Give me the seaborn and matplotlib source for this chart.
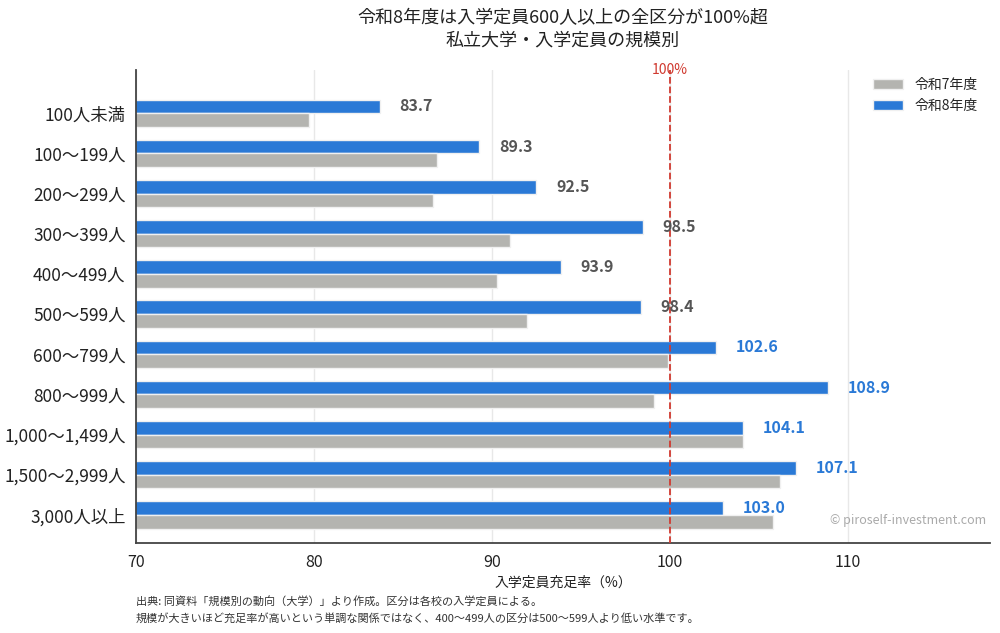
import pandas as pd
import numpy as np
import matplotlib.pyplot as plt
import seaborn as sns

# ----------------------------
# Data
# ----------------------------
categories = ['100人未満', '100～199人', '200～299人', '300～399人', '400～499人',
              '500～599人', '600～799人', '800～999人', '1,000～1,499人',
              '1,500～2,999人', '3,000人以上']
r7 = [79.7, 86.9, 86.7, 91.0, 90.3, 92.0, 99.9, 99.1, 104.1, 106.2, 105.8]
r8 = [83.7, 89.3, 92.5, 98.5, 93.9, 98.4, 102.6, 108.9, 104.1, 107.1, 103.0]
series = ['令和8年度', '令和7年度']

df = pd.DataFrame({
    'category': categories * 2,
    'year': [series[0]] * len(categories) + [series[1]] * len(categories),
    'value': r8 + r7,
})

blue = '#2a79d6'
gray = '#b4b4b0'

# ----------------------------
# Plot
# ----------------------------
sns.set_theme(style='white')
plt.rcParams['font.family'] = ['Noto Sans CJK JP', 'DejaVu Sans']

fig, ax = plt.subplots(figsize=(10, 6.33), dpi=100)
fig.subplots_adjust(left=0.136, right=0.99, top=0.889, bottom=0.142)

sns.barplot(data=df, y='category', x='value', hue='year', hue_order=series,
            order=categories, orient='h', palette=[blue, gray], saturation=1,
            width=0.68, edgecolor='#f0f0f0', linewidth=1, ax=ax, zorder=2)

ax.set_xlim(70, 118)
ax.set_ylim(10.7, -1.07)
ax.set_xticks([70, 80, 90, 100, 110])
ax.xaxis.grid(True, color='#e8e8e8', linewidth=1, zorder=0)
ax.set_axisbelow(True)
ax.set_xlabel('入学定員充足率（%）', fontsize=10, color='#222222')
ax.set_ylabel('')
ax.tick_params(axis='both', length=4, color='#444444', labelcolor='#222222')
ax.tick_params(axis='y', labelsize=12.5)
ax.tick_params(axis='x', labelsize=11.5)
for side in ['top', 'right']:
    ax.spines[side].set_visible(False)
for side in ['left', 'bottom']:
    ax.spines[side].set_color('#444444')
    ax.spines[side].set_linewidth(1.3)

# 100% line
ax.axvline(100, color='#d03a30', linestyle='--', linewidth=1.3, zorder=3)
ax.text(100, 1.0, '100%', transform=ax.get_xaxis_transform(), ha='center',
        va='center', color='#d03a30', fontsize=10)

# value labels on 令和8年度 bars
for i, v in enumerate(r8):
    c = blue if v > 100 else '#555555'
    ax.text(v + 1.1, i - 0.17, f'{v:.1f}', va='center', ha='left',
            fontsize=11.5, fontweight='bold', color=c)

# legend: gray first
handles, labels = ax.get_legend_handles_labels()
ax.legend(handles[::-1], labels[::-1], loc='upper right', frameon=False,
          fontsize=10, bbox_to_anchor=(1.0, 1.01), handlelength=2.2)

ax.text(0.995, 0.035, '© piroself-investment.com', transform=ax.transAxes,
        ha='right', va='bottom', color='#aaaaaa', fontsize=9)

fig.suptitle('令和8年度は入学定員600人以上の全区分が100%超\n私立大学・入学定員の規模別',
             x=0.563, y=0.985, fontsize=13, color='#222222', linespacing=1.3)

fig.text(0.136, 0.045, '出典: 同資料「規模別の動向（大学）」より作成。区分は各校の入学定員による。',
         fontsize=8, color='#333333')
fig.text(0.136, 0.018, '規模が大きいほど充足率が高いという単調な関係ではなく、400～499人の区分は500～599人より低い水準です。',
         fontsize=8, color='#333333')

plt.savefig('out.png', dpi=100)
